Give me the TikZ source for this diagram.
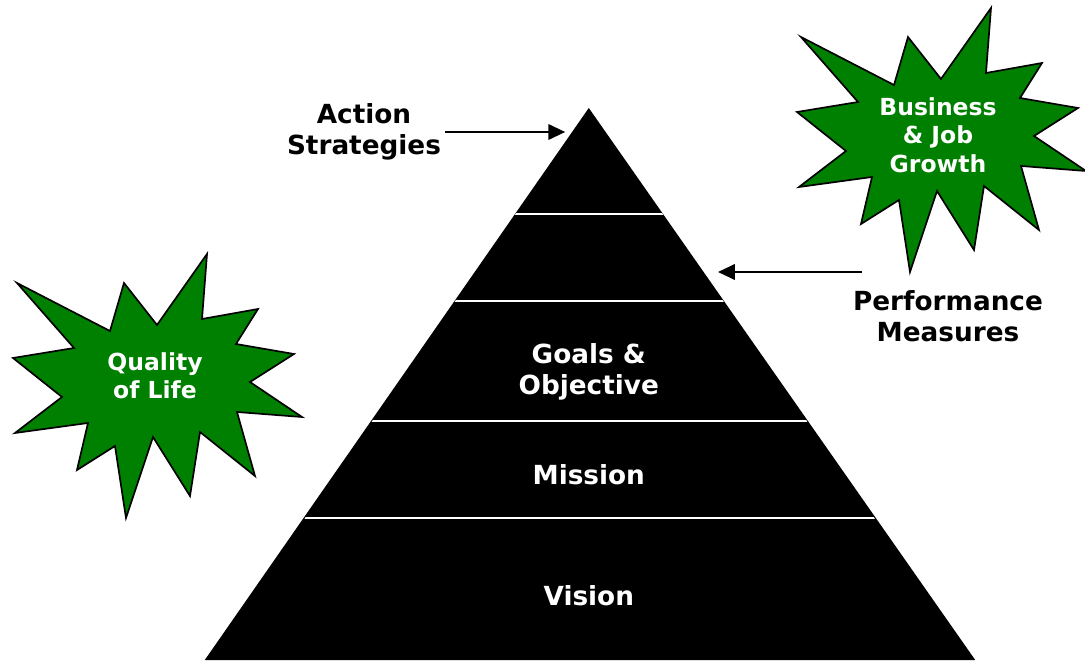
\documentclass[tikz,border=0pt]{standalone}
\usepackage{fontspec}
\setmainfont{DejaVu Sans}
\usetikzlibrary{arrows.meta}
\definecolor{verde}{RGB}{0,128,0}

\begin{document}
\begin{tikzpicture}[
    etiqueta/.style={font=\fontsize{18.7}{22}\selectfont\bfseries, align=center, inner sep=3pt},
    nivel/.style={etiqueta, text=white},
    estrella/.style={fill=verde, draw=black, line width=1.2pt, line join=miter},
    textoestrella/.style={font=\fontsize{16.7}{20.2}\selectfont\bfseries, align=center, text=white},
    flecha/.style={-{Triangle[length=12pt,width=11pt]}, line width=1.6pt},
    separador/.style={white, line width=1.4pt}
]
    \useasboundingbox (0,0) rectangle (27.125,16.5);

    % Pirámide
    \coordinate (vertice) at (14.72,13.8);
    \fill (5.12,0) -- (vertice) -- (24.38,0) -- cycle;

    % Líneas entre niveles
    \begin{scope}
        \clip (5.17,0) -- (vertice) -- (24.33,0) -- cycle;
        \foreach \y in {3.55,5.975,8.975,11.15}
            \draw[separador] (5,\y) -- (24.5,\y);
    \end{scope}

    % Niveles
    \node[nivel] (vision) at (14.72,1.6) {Vision};
    \node[nivel] (mision) at (14.72,4.625) {Mission};
    \node[nivel] (metas) at (14.72,7.2) {Goals \&\\Objective};

    % Etiquetas con flecha
    \node[etiqueta] (acciones) at (9.1,13.2) {Action\\Strategies};
    \coordinate (puntaacc) at (14.13,13.2);
    \draw[flecha] (acciones) -- (puntaacc);

    \node[etiqueta] (medidas) at (23.7,8.6) {Performance\\Measures};
    \coordinate (desde) at (21.55,9.7);
    \coordinate (hasta) at (17.95,9.7);
    \draw[flecha] (desde) -- (hasta);

    % Estrellas verdes
    \foreach \cx/\cy in {3.925/6.85, 23.525/13.0}
        \draw[estrella, shift={(\cx,\cy)}]
            (-3.5,2.575) -- (-1.175,1.375) -- (-0.825,2.575) -- (0,1.525)
            -- (1.25,3.3) -- (1.125,1.675) -- (2.525,1.925) -- (1.975,1.05)
            -- (3.425,0.8) -- (2.325,0.1) -- (3.625,-0.775) -- (2.0,-0.65)
            -- (2.45,-2.25) -- (1.075,-1.15) -- (0.825,-2.75) -- (-0.1,-1.275)
            -- (-0.775,-3.3) -- (-1.05,-1.5) -- (-2.0,-2.1) -- (-1.725,-0.925)
            -- (-3.55,-1.175) -- (-2.375,-0.275) -- (-3.6,0.7) -- (-2.075,0.95)
            -- cycle;
    \node[textoestrella] (calidad) at (3.875,7.11) {Quality\\of Life};
    \node[textoestrella] (negocios) at (23.45,13.125) {Business\\\& Job\\Growth};

\end{tikzpicture}
\end{document}
